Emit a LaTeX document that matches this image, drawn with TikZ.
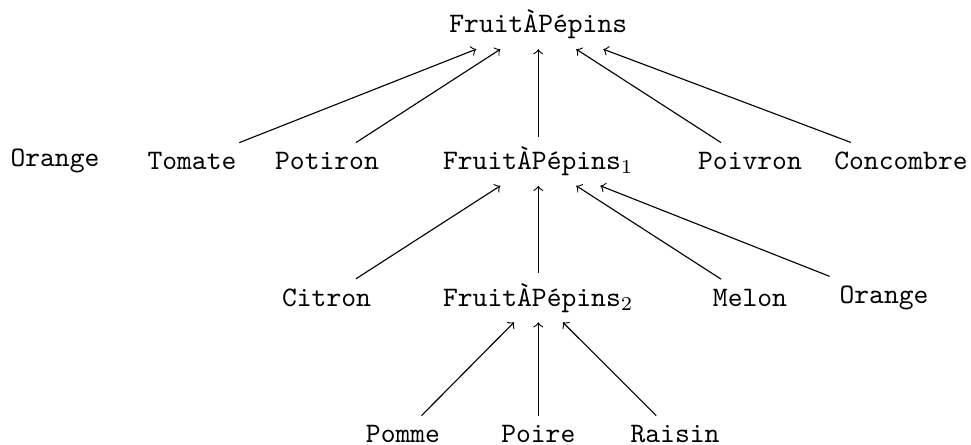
\documentclass[tikz,border=0pt]{standalone}
\begin{document}
\begin{tikzpicture}[x=0.3544pt,y=-0.3544pt,
  lbl/.style={font=\ttfamily},
  edge/.style={->}]
\useasboundingbox (0,0) rectangle (971,445);
% row 1
\node[lbl] (top) at (538.3,24.7) {FruitÀPépins};
% row 2
\node[lbl] (orangeA) at (55,161.3) {Orange};
\node[lbl] (tomate) at (192,161.3) {Tomate};
\node[lbl] (potiron) at (327,161.3) {Potiron};
\node[lbl] (fp1) at (538.3,161.3) {FruitÀPépins$_1$};
\node[lbl] (poivron) at (750,161.3) {Poivron};
\node[lbl] (concombre) at (901,161.3) {Concombre};
% row 3
\node[lbl] (citron) at (326.5,297.8) {Citron};
\node[lbl] (fp2) at (538.3,297.8) {FruitÀPépins$_2$};
\node[lbl] (melon) at (750,297.8) {Melon};
\node[lbl] (orangeB) at (884,297.8) {Orange};
% row 4
\node[lbl] (pomme) at (403,434.3) {Pomme};
\node[lbl] (poire) at (538.3,434.3) {Poire};
\node[lbl] (raisin) at (675,434.3) {Raisin};
% edges
\draw[edge] (tomate) -- (top);
\draw[edge] (potiron) -- (top);
\draw[edge] (fp1) -- (top);
\draw[edge] (poivron) -- (top);
\draw[edge] (concombre) -- (top);
\draw[edge] (citron) -- (fp1);
\draw[edge] (fp2) -- (fp1);
\draw[edge] (melon) -- (fp1);
\draw[edge] (orangeB) -- (fp1);
\draw[edge] (pomme) -- (fp2);
\draw[edge] (poire) -- (fp2);
\draw[edge] (raisin) -- (fp2);
\end{tikzpicture}
\end{document}
